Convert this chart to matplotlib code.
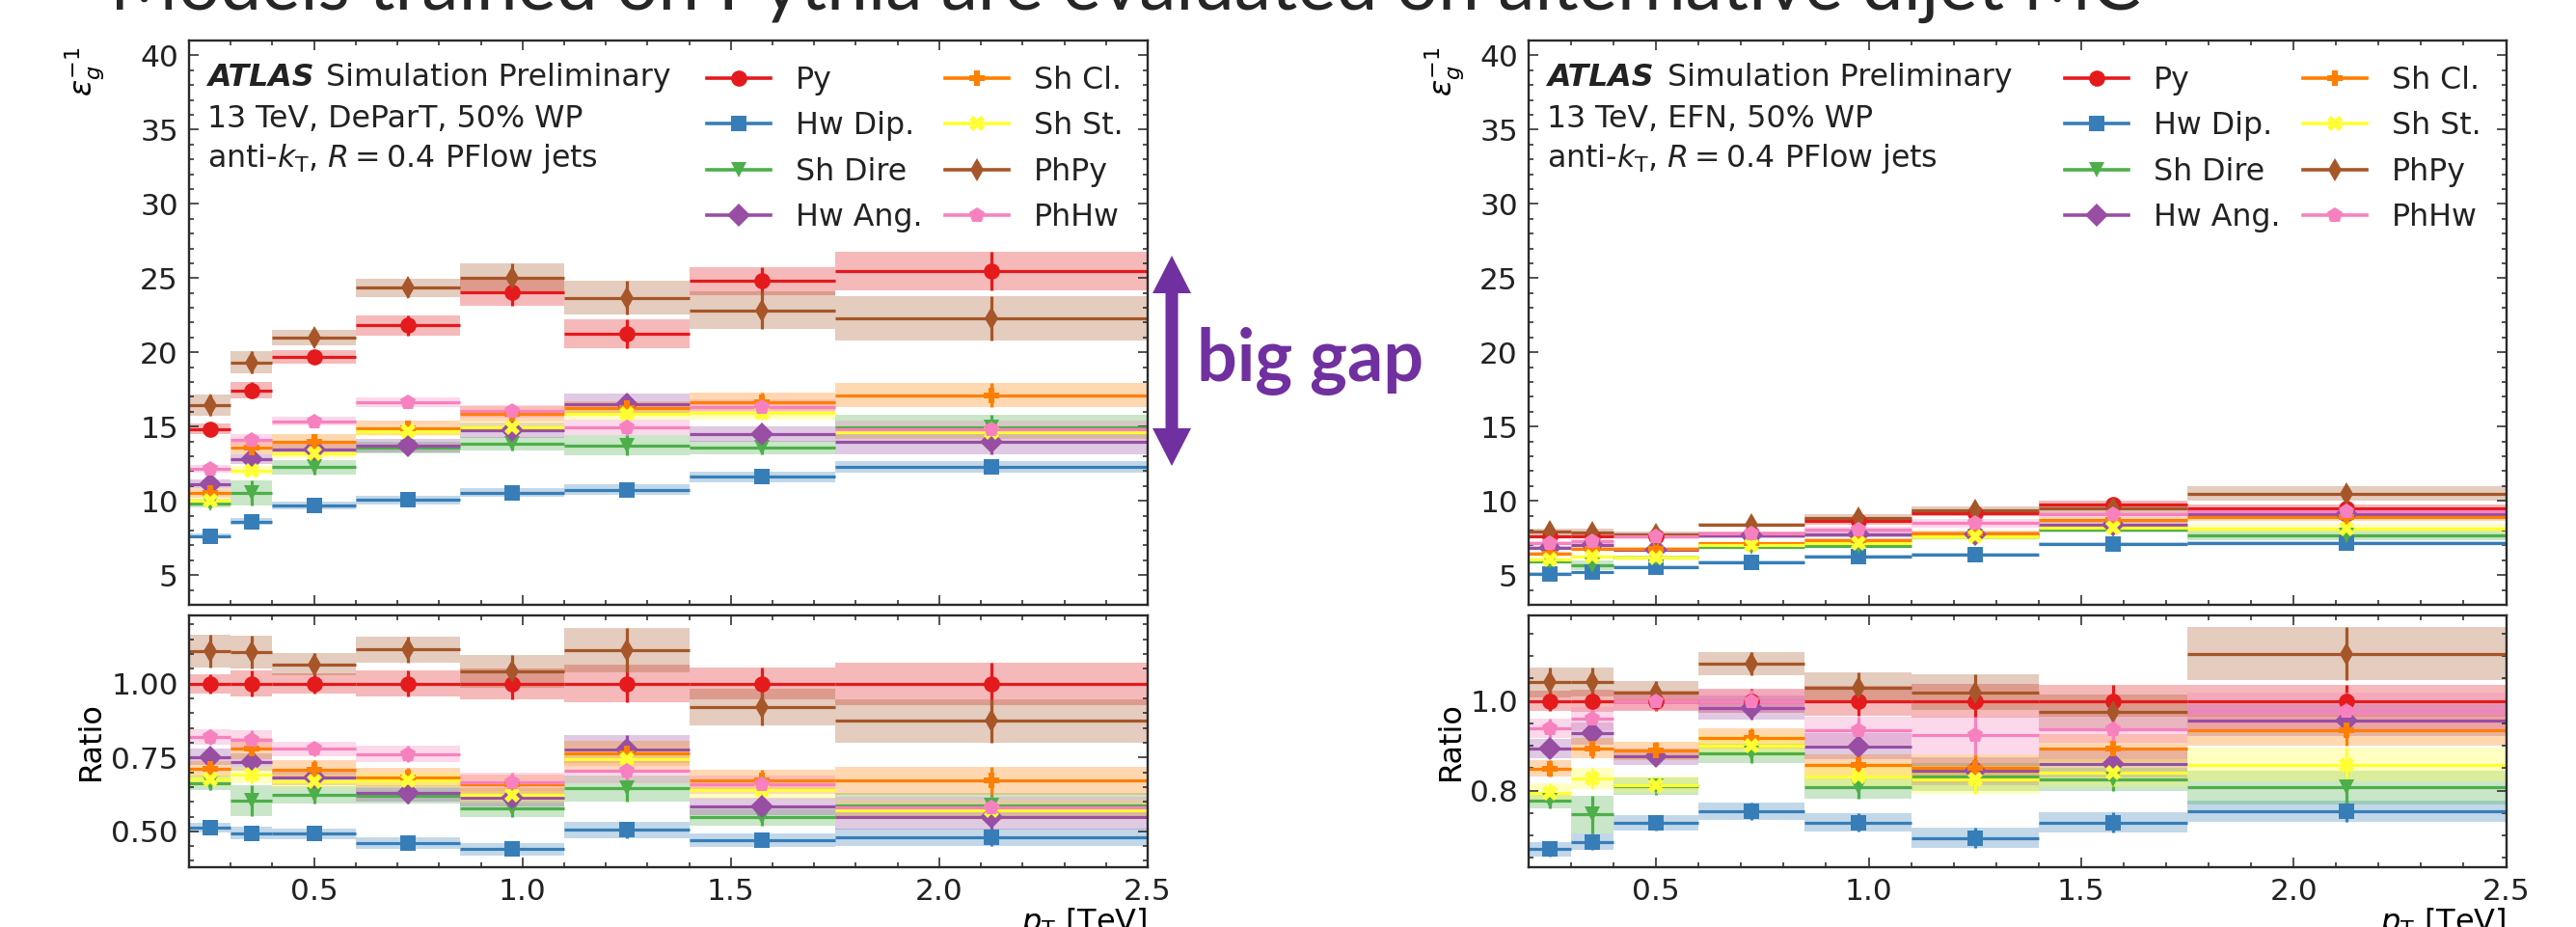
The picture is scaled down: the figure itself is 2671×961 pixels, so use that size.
import numpy as np
import matplotlib
matplotlib.use('Agg')
import matplotlib.pyplot as plt
from matplotlib.lines import Line2D
from matplotlib.patches import FancyArrow
from matplotlib.ticker import MultipleLocator

plt.rcParams['font.family'] = ['DejaVu Sans']
plt.rcParams['mathtext.fontset'] = 'dejavusans'
plt.rcParams['font.size'] = 22.5
plt.rcParams['text.color'] = '#222222'

# pT bins [TeV]
edges = [0.2, 0.3, 0.4, 0.6, 0.85, 1.1, 1.4, 1.75, 2.5]
labels = ['Py', 'Hw Dip.', 'Sh Dire', 'Hw Ang.', 'Sh Cl.', 'Sh St.', 'PhPy', 'PhHw']
colors = ['#e41a1c', '#377eb8', '#4daf4a', '#984ea3', '#ff7f00', '#ffff33', '#a65628', '#f781bf']
markers = ['o', 's', 'v', 'D', 'P', 'X', 'd', 'p']

# DeParT, inverse gluon efficiency
dep_py = [14.83, 17.45, 19.70, 21.82, 24.03, 21.26, 24.80, 25.50]
dep_py_err = [0.35, 0.54, 0.47, 0.68, 0.89, 0.96, 0.95, 1.30]
dep_hwdip = [7.62, 8.61, 9.68, 10.06, 10.56, 10.74, 11.62, 12.27]
dep_hwdip_err = [0.17, 0.25, 0.28, 0.30, 0.30, 0.35, 0.35, 0.40]
dep_shdire = [9.85, 10.54, 12.27, 13.57, 13.85, 13.74, 13.60, 14.98]
dep_shdire_err = [0.30, 0.85, 0.50, 0.40, 0.45, 0.70, 0.45, 0.80]
dep_hwang = [11.15, 12.81, 13.45, 13.72, 14.76, 16.54, 14.50, 13.96]
dep_hwang_err = [0.30, 0.35, 0.40, 0.45, 0.50, 0.70, 0.50, 0.80]
dep_shcl = [10.54, 13.61, 13.96, 14.90, 15.86, 16.23, 16.67, 17.12]
dep_shcl_err = [0.30, 0.45, 0.55, 0.50, 0.50, 0.50, 0.60, 0.80]
dep_shst = [10.00, 12.06, 13.20, 14.67, 14.98, 15.84, 15.90, 14.60]
dep_shst_err = [0.20, 0.30, 0.30, 0.30, 0.35, 0.40, 0.45, 0.40]
dep_phpy = [16.45, 19.31, 21.00, 24.35, 25.04, 23.68, 22.84, 22.29]
dep_phpy_err = [0.73, 0.75, 0.52, 0.60, 0.93, 1.16, 1.26, 1.50]
dep_phhw = [12.16, 14.11, 15.35, 16.62, 16.04, 14.96, 16.32, 14.80]
dep_phhw_err = [0.26, 0.39, 0.30, 0.33, 0.43, 0.50, 0.50, 0.60]

# EFN, inverse gluon efficiency
efn_py = [7.62, 7.58, 7.63, 7.78, 8.62, 9.20, 9.74, 9.50]
efn_py_err = [0.12, 0.13, 0.12, 0.15, 0.20, 0.25, 0.25, 0.24]
efn_hwdip = [5.10, 5.20, 5.55, 5.86, 6.28, 6.39, 7.10, 7.16]
efn_hwdip_err = [0.10, 0.10, 0.10, 0.10, 0.10, 0.12, 0.12, 0.13]
efn_shdire = [5.92, 5.66, 6.18, 6.87, 6.96, 7.64, 8.04, 7.67]
efn_shdire_err = [0.08, 0.30, 0.12, 0.10, 0.15, 0.20, 0.15, 0.30]
efn_hwang = [6.81, 7.03, 6.68, 7.66, 7.75, 7.76, 8.37, 9.09]
efn_hwang_err = [0.12, 0.15, 0.10, 0.15, 0.18, 0.20, 0.20, 0.25]
efn_shcl = [6.47, 6.78, 6.78, 7.13, 7.38, 7.82, 8.71, 8.88]
efn_shcl_err = [0.10, 0.12, 0.12, 0.10, 0.12, 0.20, 0.20, 0.25]
efn_shst = [6.06, 6.27, 6.20, 7.00, 7.16, 7.58, 8.18, 8.15]
efn_shst_err = [0.12, 0.14, 0.10, 0.12, 0.15, 0.20, 0.20, 0.30]
efn_phpy = [7.94, 7.90, 7.77, 8.42, 8.87, 9.38, 9.50, 10.50]
efn_phpy_err = [0.22, 0.20, 0.15, 0.12, 0.22, 0.25, 0.30, 0.49]
efn_phhw = [7.16, 7.28, 7.63, 7.78, 8.05, 8.49, 9.13, 9.29]
efn_phhw_err = [0.12, 0.15, 0.10, 0.12, 0.20, 0.30, 0.20, 0.30]

dep_series = [(dep_py, dep_py_err), (dep_hwdip, dep_hwdip_err), (dep_shdire, dep_shdire_err),
              (dep_hwang, dep_hwang_err), (dep_shcl, dep_shcl_err), (dep_shst, dep_shst_err),
              (dep_phpy, dep_phpy_err), (dep_phhw, dep_phhw_err)]
efn_series = [(efn_py, efn_py_err), (efn_hwdip, efn_hwdip_err), (efn_shdire, efn_shdire_err),
              (efn_hwang, efn_hwang_err), (efn_shcl, efn_shcl_err), (efn_shst, efn_shst_err),
              (efn_phpy, efn_phpy_err), (efn_phhw, efn_phhw_err)]

W, H = 2671, 961
fig = plt.figure(figsize=(W / 100, H / 100), dpi=100)


def px_axes(x0, x1, top, bottom):
    return fig.add_axes([x0 / W, 1 - bottom / H, (x1 - x0) / W, (bottom - top) / H])


def style_axes(ax, ymajor, yminor):
    ax.xaxis.set_major_locator(MultipleLocator(0.5))
    ax.xaxis.set_minor_locator(MultipleLocator(0.1))
    ax.yaxis.set_major_locator(MultipleLocator(ymajor))
    ax.yaxis.set_minor_locator(MultipleLocator(yminor))
    ax.tick_params(which='both', direction='in', top=True, right=True,
                   colors='#222222', labelsize=22.5, width=1.1)
    ax.tick_params(which='major', length=7.5, pad=8)
    ax.tick_params(which='minor', length=3.8)
    for s in ax.spines.values():
        s.set_linewidth(1.7)
        s.set_color('#2a2a2a')


def draw_series(ax, centers, widths, vals, errs, color, marker):
    ax.bar(centers, 2 * errs, width=widths, bottom=vals - errs, color=color,
           alpha=0.3, linewidth=0)
    ax.errorbar(centers, vals, xerr=widths / 2, yerr=errs, fmt=marker, color=color,
                ms=12, mew=0, elinewidth=2.3, capsize=0)


def panel(x0, x1, series, tagger, ratio_lim, ratio_major, label_x, leg_x):
    ax = px_axes(x0, x1, 42, 627)
    rax = px_axes(x0, x1, 638.3, 898.6)
    e = np.array(edges)
    centers = (e[:-1] + e[1:]) / 2
    widths = np.diff(e)
    py = np.array(series[0][0])
    py_err = np.array(series[0][1])
    for (vals, errs), color, marker in zip(series, colors, markers):
        vals = np.array(vals)
        errs = np.array(errs)
        draw_series(ax, centers, widths, vals, errs, color, marker)
        # ratio to Py, uncertainties added in quadrature
        ratio = vals / py
        rerr = ratio * np.sqrt((errs / vals) ** 2 + (py_err / py) ** 2)
        draw_series(rax, centers, widths, ratio, rerr, color, marker)

    for a in (ax, rax):
        a.set_xlim(0.2, 2.5)
    ax.set_ylim(3, 41)
    rax.set_ylim(*ratio_lim)
    style_axes(ax, 5, 1)
    style_axes(rax, ratio_major, 0.05)
    ax.tick_params(labelbottom=False)

    ax.set_ylabel(r'$\varepsilon_{g}^{-1}$', fontsize=23, loc='top')
    ax.yaxis.set_label_coords(label_x, 0.99)
    rax.set_ylabel('Ratio', fontsize=23)
    rax.yaxis.set_label_coords(label_x, 0.5)
    rax.set_xlabel(r'$p_{\mathrm{T}}$ [TeV]', fontsize=23, loc='right')
    rax.xaxis.set_label_coords(1.0, -0.155)
    rax.xaxis.label.set_va('top')

    # ATLAS label
    ax.text(0.019, 0.919, 'ATLAS', transform=ax.transAxes, fontsize=22.8,
            fontweight='bold', fontstyle='italic', va='baseline')
    ax.text(0.1425, 0.919, 'Simulation Preliminary', transform=ax.transAxes,
            fontsize=22.8, va='baseline')
    ax.text(0.019, 0.8455, '13 TeV, ' + tagger + ', 50% WP', transform=ax.transAxes,
            fontsize=22.8, va='baseline')
    ax.text(0.019, 0.7765, r'anti-$k_{\mathrm{T}}$, $R = 0.4$ PFlow jets',
            transform=ax.transAxes, fontsize=22.8, va='baseline')

    handles = [Line2D([], [], color=c, marker=m, ms=12, mew=0, lw=2.6)
               for c, m in zip(colors, markers)]
    ax.legend(handles, labels, ncol=2, loc='upper left', bbox_to_anchor=(leg_x, 0.956),
              frameon=False, borderpad=0, borderaxespad=0, handlelength=2.08,
              handletextpad=0.82, columnspacing=0.75, labelspacing=0.52, fontsize=22.8)
    return ax, rax


panel(196, 1190, dep_series, 'DeParT', (0.38, 1.23), 0.25, -0.087, 0.540)
panel(1585, 2598.5, efn_series, 'EFN', (0.63, 1.19), 0.2, -0.064, 0.5486)

# slide title (cut off at the top of the image, as in the slide)
fig.text(114 / W, 1 - 10 / H, 'Models trained on Pythia are evaluated on alternative dijet MC',
         fontsize=55, family=['Lato', 'DejaVu Sans'], color='#262626',
         va='baseline', ha='left')

# "big gap" annotation
purple = '#7030a0'
mid = (961 - 374) / 100
for dy in (1.09, -1.09):
    fig.add_artist(FancyArrow(12.15, mid, 0, dy, width=0.13, head_width=0.40,
                              head_length=0.39, length_includes_head=True,
                              color=purple, linewidth=0, transform=fig.dpi_scale_trans))
fig.text(1241 / W, 1 - 395 / H, 'big gap', fontsize=53, fontweight='bold',
         family=['Lato', 'DejaVu Sans'], color=purple, va='baseline', ha='left')

fig.savefig('out.png', dpi=100)
